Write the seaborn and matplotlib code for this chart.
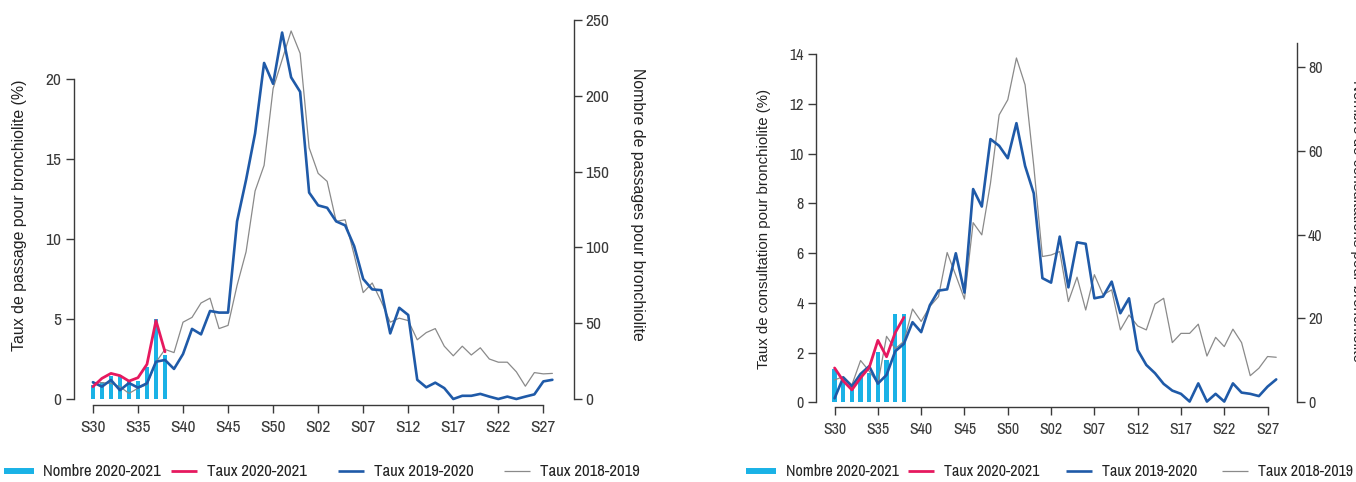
import matplotlib
matplotlib.use("Agg")
import matplotlib.pyplot as plt
from matplotlib.lines import Line2D
import seaborn as sns

# ---------------- data ----------------
week_idx = list(range(52))          # S30 ... S53, S01 ... S28
bar_idx = list(range(9))            # S30 ... S38
tick_pos = [0, 5, 10, 15, 20, 25, 30, 35, 40, 45, 50]
tick_labels = ["S30", "S35", "S40", "S45", "S50", "S02", "S07", "S12", "S17", "S22", "S27"]

# Left panel: passages aux urgences
left_nombre_2021 = [9, 11, 15, 16, 12, 12, 21, 53, 29]
left_taux_2021 = [0.77, 1.29, 1.6, 1.46, 1.12, 1.33, 2.17, 4.9, 2.95]
left_taux_1920 = [1.05, 0.77, 1.19, 0.55, 1.0, 0.71, 0.98, 2.33, 2.44, 1.88,
                  2.81, 4.38, 4.04, 5.5, 5.4, 5.4, 11.1, 13.7, 16.6, 21.0,
                  19.7, 22.9, 20.1, 19.2, 12.9, 12.1, 11.95, 11.1, 10.85, 9.55,
                  7.5, 6.85, 6.8, 4.1, 5.7, 5.25, 1.2, 0.73, 1.02, 0.68,
                  0.0, 0.2, 0.2, 0.32, 0.15, 0.0, 0.15, 0.0, 0.15, 0.29,
                  1.1, 1.2]
left_taux_1819 = [0.98, 1.02, 0.98, 0.77, 0.35, 0.67, 0.9, 2.3, 3.1, 2.9,
                  4.8, 5.1, 6.0, 6.3, 4.4, 4.6, 7.1, 9.2, 13.0, 14.6,
                  19.4, 21.2, 23.0, 21.6, 15.7, 14.1, 13.6, 11.1, 11.2, 9.0,
                  6.65, 7.25, 6.1, 4.8, 5.05, 4.9, 3.7, 4.15, 4.4, 3.3,
                  2.7, 3.3, 2.75, 3.2, 2.5, 2.3, 2.3, 1.7, 0.8, 1.65,
                  1.57, 1.6]

# Right panel: consultations
right_nombre_2021 = [8, 6, 4, 6, 7, 12, 10, 21, 21]
right_taux_2021 = [1.38, 0.86, 0.5, 0.98, 1.4, 2.49, 1.83, 2.8, 3.41]
right_taux_1920 = [0.16, 1.0, 0.64, 1.14, 1.45, 0.75, 1.1, 2.05, 2.35, 3.22,
                   2.82, 3.9, 4.49, 4.54, 5.99, 4.41, 8.57, 7.87, 10.58, 10.31,
                   9.81, 11.22, 9.5, 8.4, 4.99, 4.81, 6.66, 4.62, 6.43, 6.37,
                   4.18, 4.25, 4.85, 3.58, 4.18, 2.1, 1.5, 1.17, 0.74, 0.47,
                   0.34, 0.03, 0.76, 0.03, 0.34, 0.03, 0.76, 0.39, 0.34, 0.25,
                   0.63, 0.92]
right_taux_1819 = [0.9, 1.03, 0.7, 1.68, 1.25, 0.76, 2.65, 2.15, 2.45, 3.75,
                   3.25, 3.85, 4.25, 6.02, 5.1, 4.15, 7.22, 6.73, 8.8, 11.55,
                   12.16, 13.84, 12.76, 9.5, 5.86, 5.92, 6.06, 4.05, 5.03, 3.71,
                   5.13, 4.32, 4.52, 2.91, 3.51, 3.07, 2.91, 3.95, 4.18, 2.4,
                   2.77, 2.77, 3.14, 1.86, 2.61, 2.24, 2.94, 2.4, 1.07, 1.37,
                   1.84, 1.81]

legend_labels = ["Nombre 2020-2021", "Taux 2020-2021", "Taux 2019-2020", "Taux 2018-2019"]

# ---------------- style ----------------
C_BAR = "#1ab2e6"
C_RED = "#e6195f"
C_BLUE = "#1f5aa8"
C_GREY = "#8a8a8a"
C_AX = "#3a3a3a"
C_TXT = "#222222"

sns.set_style("ticks")
NARROW = ["Liberation Sans Narrow", "Archivo Narrow", "Roboto Condensed",
          "Liberation Sans", "DejaVu Sans"]
REG = ["Liberation Sans", "DejaVu Sans"]
plt.rcParams["font.family"] = NARROW
plt.rcParams["axes.edgecolor"] = C_AX
plt.rcParams["xtick.color"] = C_AX
plt.rcParams["ytick.color"] = C_AX
plt.rcParams["text.color"] = C_TXT
plt.rcParams["axes.labelcolor"] = C_TXT

W, H = 1356, 482
fig = plt.figure(figsize=(W / 100, H / 100), dpi=100)


def px_axes(l, r, t, b):
    return fig.add_axes([l / W, (H - b) / H, (r - l) / W, (b - t) / H])


def panel(ax, taux21, taux1920, taux1819, nombre, ylim_l, ylim_r, lticks, rticks,
          rspine_top, ylab, rlab, tick_fs, lab_fs, ylab_xy, rlab_xy):
    ax2 = ax.twinx()
    sns.barplot(x=bar_idx, y=nombre, ax=ax2, native_scale=True, width=0.5,
                color=C_BAR, saturation=1, linewidth=0, errorbar=None)
    sns.lineplot(x=week_idx, y=taux1819, ax=ax, color=C_GREY, lw=0.9)
    sns.lineplot(x=week_idx, y=taux1920, ax=ax, color=C_BLUE, lw=1.9)
    sns.lineplot(x=bar_idx, y=taux21, ax=ax, color=C_RED, lw=2.0)
    ax.set_zorder(ax2.get_zorder() + 1)
    ax.patch.set_visible(False)

    ax.set_xlim(-2.1, 53.4)
    ax.set_ylim(*ylim_l)
    ax2.set_ylim(*ylim_r)
    ax.set_xticks(tick_pos)
    ax.set_xticklabels(tick_labels)
    ax.set_yticks(lticks)
    ax.set_yticklabels([str(v) for v in lticks])
    ax2.set_yticks(rticks)
    ax2.set_yticklabels([str(v) for v in rticks])

    for s in ["top", "right"]:
        ax.spines[s].set_visible(False)
    for s in ["top", "left", "bottom"]:
        ax2.spines[s].set_visible(False)
    ax.spines["bottom"].set_bounds(0, 50)
    ax.spines["left"].set_bounds(lticks[0], lticks[-1])
    ax2.spines["right"].set_bounds(0, rspine_top)
    for sp in list(ax.spines.values()) + list(ax2.spines.values()):
        sp.set_linewidth(1.0)

    ax.tick_params(axis="x", length=6, width=1, pad=5, labelsize=tick_fs)
    ax.tick_params(axis="y", length=6, width=1, pad=3, labelsize=tick_fs)
    ax2.tick_params(axis="y", length=6, width=1, pad=2, labelsize=tick_fs)
    ax2.tick_params(axis="x", bottom=False, labelbottom=False)
    ax.set_xlabel("")
    ax2.set_xlabel("")

    ax.set_ylabel(ylab, fontsize=lab_fs, family=REG, va="center", ha="center")
    ax.yaxis.set_label_coords(*ylab_xy)
    ax2.set_ylabel(rlab, fontsize=lab_fs, family=REG, rotation=270,
                   va="center", ha="center")
    ax2.yaxis.set_label_coords(*rlab_xy)
    return ax, ax2


# Left panel
axL = px_axes(74, 574, 14, 405)
panel(axL, left_taux_2021, left_taux_1920, left_taux_1819, left_nombre_2021,
      ylim_l=(-0.375, 24.06), ylim_r=(-3.96, 253.96),
      lticks=[0, 5, 10, 15, 20], rticks=[0, 50, 100, 150, 200, 250], rspine_top=250,
      ylab="Taux de passage pour bronchiolite (%)",
      rlab="Nombre de passages pour bronchiolite",
      tick_fs=12.5, lab_fs=11.4,
      ylab_xy=(-0.109, 0.486), rlab_xy=(1.126, 0.514))

# Right panel
axR = px_axes(816.4, 1297, 43.3, 406.7)
panel(axR, right_taux_2021, right_taux_1920, right_taux_1819, right_nombre_2021,
      ylim_l=(-0.177, 14.43), ylim_r=(-1.05, 85.58),
      lticks=[0, 2, 4, 6, 8, 10, 12, 14], rticks=[0, 20, 40, 60, 80], rspine_top=85.58,
      ylab="Taux de consultation pour bronchiolite (%)",
      rlab="Nombre de consultations pour bronchiolite",
      tick_fs=11.5, lab_fs=10.8,
      ylab_xy=(-0.109, 0.489), rlab_xy=(1.125, 0.51))

# ---------------- legends ----------------
handles = [
    Line2D([], [], color=C_BAR, lw=4.3, solid_capstyle="butt"),
    Line2D([], [], color=C_RED, lw=2.0, solid_capstyle="butt"),
    Line2D([], [], color=C_BLUE, lw=1.9, solid_capstyle="butt"),
    Line2D([], [], color=C_GREY, lw=0.9, solid_capstyle="butt"),
]


def add_entries(x_starts, fs, y_px=472):
    em = fs * 100 / 72
    for h, lab, x0, hl in zip(handles, legend_labels, x_starts, [30, 26, 26, 26]):
        fig.legend(handles=[h], labels=[lab], loc="center left",
                   bbox_to_anchor=(x0 / W, (H - y_px) / H), frameon=False,
                   fontsize=fs, handlelength=hl / em, handletextpad=10 / em,
                   borderpad=0, borderaxespad=0)


add_entries([3.5, 171, 338, 504], 12.0)
add_entries([746, 908, 1066, 1222], 11.5)

fig.savefig("out.png", dpi=100)
